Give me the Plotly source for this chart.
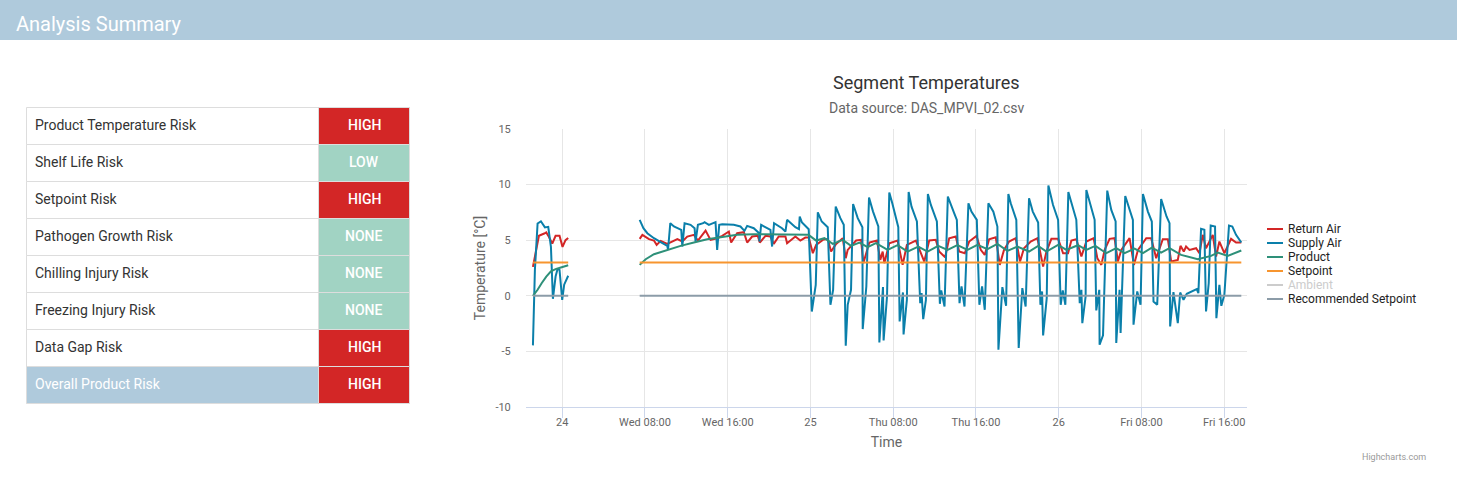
import pandas as pd
import plotly.graph_objects as go

W, H = 1457, 489
PL, PR, PT, PB = 526, 1247, 129, 407

risk_names = ["Product Temperature Risk", "Shelf Life Risk", "Setpoint Risk", "Pathogen Growth Risk",
              "Chilling Injury Risk", "Freezing Injury Risk", "Data Gap Risk", "Overall Product Risk"]
risk_levels = ["HIGH", "LOW", "HIGH", "NONE", "NONE", "NONE", "HIGH", "HIGH"]

tick_hours = [0, 8, 16, 24, 32, 40, 48, 56, 64]
tick_labels = ["24", "Wed 08:00", "Wed 16:00", "25", "Thu 08:00", "Thu 16:00", "26", "Fri 08:00", "Fri 16:00"]
y_ticks = [-10, -5, 0, 5, 10, 15]

supply_hours = [-2.83,-2.64,-2.38,-2.06,-1.67,-1.35,-1.09,-0.9,-0.64,-0.45,-0.26,0,0.19,0.58,None,
7.49,7.85,8.23,8.87,9.52,10.16,10.23,10.45,10.8,11.51,11.61,11.83,12.41,12.8,12.89,13.12,13.63,13.76,14.18,14.82,14.98,15.18,15.47,16.59,17.23,17.62,17.88,18.52,19.04,19.07,19.23,20.13,20.29,20.48,21.25,21.58,21.74,22.54,22.89,22.96,23.18,23.83,
24.13,24.51,24.71,25.09,25.67,25.93,26.19,26.44,26.89,27.22,27.41,27.6,27.92,28.12,28.57,29.02,29.05,29.4,29.66,30.05,30.56,30.66,31.01,31.07,31.4,31.62,31.91,32.49,32.62,32.94,33.0,33.32,33.49,33.77,34.29,34.61,34.74,34.9,35.16,35.35,35.64,36.22,36.51,36.64,36.96,37.28,37.89,38.15,38.41,38.6,38.89,39.27,39.56,40.08,40.33,40.59,40.85,41.2,41.68,42.07,42.17,42.55,42.91,43.13,43.36,43.9,44.13,44.48,44.8,45.13,
45.49,46.01,46.23,46.39,46.49,46.84,47.0,47.45,47.94,48.19,48.39,48.64,48.93,49.38,49.7,50.03,50.19,50.28,50.6,50.67,51.15,51.47,51.63,51.92,51.95,52.28,52.69,53.08,53.5,53.56,53.88,53.98,54.43,54.95,55.17,55.23,55.59,55.91,56.14,56.62,57.0,57.16,57.52,57.9,58.42,58.71,58.77,59.09,59.51,59.74,60.06,60.38,60.8,61.34,61.5,61.76,62.08,62.24,62.5,62.69,63.11,63.24,63.53,63.72,64.01,64.46,64.78,65.14,65.65]
supply_temp = [-4.46,2.33,6.5,6.7,6.15,6.2,4.4,-0.27,1.73,2.4,2.33,-0.36,1.0,1.8,None,
6.83,6.08,5.63,5.18,4.82,4.49,4.13,6.53,6.23,5.93,4.43,6.53,6.38,6.08,4.88,6.38,6.53,6.62,6.38,6.62,4.13,6.38,6.44,6.38,6.23,5.84,6.29,6.08,5.63,4.88,6.38,5.93,4.43,6.53,6.08,5.78,6.83,6.17,5.99,7.13,6.59,5.99,
-1.41,0.99,7.51,6.68,6.17,-0.81,0.54,8.02,6.98,6.38,-4.49,-0.81,0.54,8.26,6.98,6.17,-2.99,0.84,8.83,7.57,6.23,-4.19,0.78,-4.01,-0.06,9.28,8.32,6.17,-2.31,0.3,-3.47,-0.36,9.34,8.02,6.68,-0.66,0.24,-2.1,-0.36,9.16,8.17,6.68,-0.72,0.48,-0.96,8.92,7.43,6.83,-0.66,0.84,-0.96,8.32,7.57,6.83,-0.81,0.84,-1.26,8.32,7.57,6.23,-4.85,0.78,-0.9,9.16,8.32,6.83,-4.7,0.69,-0.96,8.77,
7.57,6.59,-0.81,0.39,-3.56,-0.21,9.91,8.17,6.83,-0.81,0.48,-0.81,9.34,7.72,6.83,-0.66,0.54,-2.46,-0.06,9.52,8.02,6.83,-1.32,0.54,-4.4,-3.56,9.46,7.72,6.68,-4.25,0.54,-3.35,8.98,7.57,6.83,-2.6,0.39,-0.81,9.16,7.57,6.68,-0.51,-0.81,8.71,7.13,6.53,-2.75,0.33,-2.46,0.3,-0.36,0.18,0.39,0.6,0.24,6.02,5.93,-1.41,1.14,6.32,6.23,-2.01,0.99,-0.9,0.09,6.32,6.23,5.48,4.79]

return_hours = [-2.83,-2.64,-2.25,-1.74,-1.54,-1.29,-0.96,-0.64,-0.26,0.03,0.32,0.58,None,
7.49,7.75,8.39,8.87,9.13,9.52,10.16,10.42,11.13,11.61,12.09,12.73,13.12,13.86,14.34,14.98,15.47,16.11,16.33,16.91,17.56,17.88,18.36,18.91,19.1,19.65,20.13,20.45,20.93,21.58,21.74,22.54,23.02,23.5,23.83,
24.23,24.55,25.19,25.67,25.99,26.48,27.12,27.41,27.6,28.41,28.89,29.11,29.69,30.43,30.75,30.98,31.14,31.62,32.42,32.91,33.32,34.19,35.0,35.48,36.12,36.44,37.02,37.41,38.05,38.37,38.92,39.34,40.05,40.46,40.85,41.27,41.91,42.3,42.71,43.2,43.84,44.26,44.64,45.29,
45.94,46.33,46.49,46.81,47.29,47.94,48.42,48.9,49.22,49.7,50.19,50.67,51.38,51.73,52.12,52.44,52.92,53.4,53.72,54.05,54.85,55.27,55.66,56.46,56.94,57.42,58.06,58.55,58.87,59.51,59.77,60.09,60.31,60.64,61.28,61.6,61.92,62.24,62.89,63.21,63.53,64.01,64.66,65.14,65.65]
return_temp = [2.6,3.5,5.4,5.6,5.7,5.3,4.7,5.4,5.4,4.4,5.0,5.2,None,
5.12,5.48,5.09,4.97,4.58,4.94,4.67,4.79,5.09,4.88,5.33,5.48,4.97,5.87,5.03,5.18,5.39,5.78,4.79,5.63,5.72,4.79,5.33,5.39,4.79,5.39,5.33,4.67,5.33,5.33,4.73,5.33,4.97,5.24,5.24,
3.83,4.58,5.03,5.12,3.98,4.67,5.18,3.38,4.13,4.97,5.03,2.93,4.79,4.97,3.23,3.98,2.93,4.73,4.97,2.78,4.58,4.97,3.08,4.97,5.03,3.98,3.47,5.18,5.33,3.98,3.83,4.88,5.39,4.13,3.68,5.09,5.27,2.78,4.13,4.88,5.18,3.08,4.28,4.88,
5.18,3.53,2.63,3.98,5.12,5.12,3.83,3.83,4.97,5.09,3.53,4.88,5.18,3.38,2.78,4.13,5.12,5.18,3.08,4.13,5.18,2.78,4.13,5.18,5.18,3.38,5.09,5.09,3.08,3.23,4.49,3.98,4.43,4.13,4.28,3.83,5.48,4.28,5.48,3.53,4.88,3.83,5.12,4.79,4.79]

product_hours = [-2.83,-2.38,-1.99,-1.54,-1.09,-0.64,-0.13,0.58,None,
7.49,8.07,8.87,10.16,11.45,12.73,14.02,15.31,16.91,18.52,20.45,23.67,23.81,
24.55,25.35,26.15,27.12,27.92,28.73,29.53,30.33,31.46,32.42,33.39,34.42,35.32,36.35,37.25,38.21,39.18,40.14,41.11,42.07,43.04,44.0,45.13,
46.01,46.81,47.94,48.74,49.86,50.67,51.54,52.6,53.56,54.37,55.33,56.14,57.0,57.9,58.71,59.83,61.44,62.73,63.37,64.33,65.65]
product_temp = [0,0.54,1.13,1.73,2.2,2.4,2.55,2.75,None,
2.78,3.29,3.74,4.13,4.49,4.79,5.09,5.27,5.48,5.54,5.51,5.51,5.48,
4.97,5.18,4.67,5.03,4.49,4.79,4.37,4.73,4.13,4.55,3.98,4.43,3.98,4.49,4.13,4.55,4.13,4.58,4.19,4.67,4.04,4.43,3.98,
4.49,3.98,4.58,4.13,4.55,4.13,4.49,3.83,4.28,3.83,4.25,3.83,4.34,3.89,4.28,3.68,3.29,3.59,3.89,3.59,4.07]

flat_hours = [-2.83, 0.58, None, 7.49, 65.65]
setpoint_temp = [3, 3, None, 3, 3]
recommended_temp = [0, 0, None, 0, 0]

series_names = ["Return Air", "Supply Air", "Product", "Setpoint", "Ambient", "Recommended Setpoint"]
series_colors = ["#D32626", "#0A7FAA", "#2E9079", "#F7952F", "#CCCCCC", "#8C9CA8"]

BASE = pd.Timestamp("2018-10-24")


def stamp(hours):
    return [None if h is None else (BASE + pd.Timedelta(hours=h)).isoformat() for h in hours]


def px(x):
    return (x - PL) / (PR - PL)


def py(y):
    return (PB - y) / (PB - PT)


fig = go.Figure()
plotted = [(0, return_hours, return_temp), (1, supply_hours, supply_temp), (2, product_hours, product_temp),
           (3, flat_hours, setpoint_temp), (5, flat_hours, recommended_temp)]
for i, xs, ys in plotted:
    fig.add_trace(go.Scatter(x=stamp(xs), y=ys, mode="lines", name=series_names[i], showlegend=False,
                             line=dict(color=series_colors[i], width=2), connectgaps=False))

shapes = [dict(type="rect", xref="paper", yref="paper", x0=px(0), x1=px(W), y0=py(40), y1=py(0),
               fillcolor="#AFCADC", line_width=0, layer="below")]
annotations = [dict(text="Analysis Summary", x=px(16), y=py(24.5), xanchor="left", yanchor="middle",
                    font=dict(size=20, color="#FFFFFF"))]

# Risk table
TX0, TX1, TX2, TY0, RH = 26.5, 318.5, 409.5, 107.5, 37
level_fill = {"HIGH": "#D32626", "LOW": "#A1D3C3", "NONE": "#A1D3C3"}
for i, (name, level) in enumerate(zip(risk_names, risk_levels)):
    y0, y1 = TY0 + i * RH, TY0 + (i + 1) * RH
    last = i == len(risk_names) - 1
    shapes.append(dict(type="rect", xref="paper", yref="paper", x0=px(TX0), x1=px(TX1), y0=py(y1), y1=py(y0),
                       fillcolor="#AFCADC" if last else "#FFFFFF", line=dict(color="#DDDDDD", width=1)))
    shapes.append(dict(type="rect", xref="paper", yref="paper", x0=px(TX1), x1=px(TX2), y0=py(y1), y1=py(y0),
                       fillcolor=level_fill[level], line=dict(color="#DDDDDD", width=1)))
    mid = (y0 + y1) / 2 - 1
    annotations.append(dict(text=name, x=px(35), y=py(mid), xanchor="left", yanchor="middle",
                            font=dict(size=14, color="#FFFFFF" if last else "#333333")))
    annotations.append(dict(text=level, x=px((TX1 + TX2) / 2), y=py(mid), xanchor="center",
                            yanchor="middle", font=dict(size=14, color="#FFFFFF", weight=500)))

# Chart titles and credit
annotations += [
    dict(text="Segment Temperatures", x=px(926.5), y=py(83), font=dict(size=18, color="#333333")),
    dict(text="Data source: DAS_MPVI_02.csv", x=px(926.5), y=py(108), font=dict(size=14, color="#666666")),
    dict(text="Highcharts.com", x=px(1426), y=py(457), xanchor="right", font=dict(size=9, color="#999999")),
]

# Legend
for i, (name, color) in enumerate(zip(series_names, series_colors)):
    y = 229 + i * 14
    shapes.append(dict(type="line", xref="paper", yref="paper", x0=px(1267), x1=px(1283), y0=py(y), y1=py(y),
                       line=dict(color=color, width=2)))
    annotations.append(dict(text=name, x=px(1288), y=py(y), xanchor="left", yanchor="middle",
                            font=dict(size=12, color="#CCCCCC" if name == "Ambient" else "#222222")))

for a in annotations:
    a.update(xref="paper", yref="paper", showarrow=False, borderpad=0, borderwidth=0)
    a.setdefault("xanchor", "center")
    a.setdefault("yanchor", "middle")

fig.update_layout(
    width=W, height=H, autosize=False, paper_bgcolor="#FFFFFF", plot_bgcolor="#FFFFFF",
    margin=dict(l=PL, r=W - PR, t=PT, b=H - PB, pad=0),
    font=dict(family="Roboto", color="#333333"), showlegend=False, shapes=shapes, annotations=annotations,
    xaxis=dict(type="date", range=stamp([-3.5, 66.2]), tickmode="array", tickvals=stamp(tick_hours),
               ticktext=tick_labels, tickfont=dict(size=11, color="#666666"), showgrid=True, gridcolor="#E6E6E6",
               gridwidth=1, zeroline=False, showline=True, linecolor="#CCD6EB", linewidth=1, ticks="outside",
               ticklen=10, tickcolor="#CCD6EB", tickwidth=1, ticklabelstandoff=-5, tickangle=0,
               title=dict(text="Time", font=dict(size=14, color="#666666"), standoff=8)),
    yaxis=dict(range=[-10, 15], tickmode="array", tickvals=y_ticks, ticktext=[str(v) for v in y_ticks],
               tickfont=dict(size=11, color="#666666"), showgrid=True, gridcolor="#E6E6E6", gridwidth=1,
               zeroline=False, showline=False, ticks="outside", ticklen=12, tickcolor="rgba(0,0,0,0)",
               title=dict(text="Temperature [°C]", font=dict(size=14, color="#666666"), standoff=6)),
)
fig.write_html("out.html", config={"displayModeBar": False},
               post_script="document.body.style.margin='0';document.body.style.overflow='hidden';")
